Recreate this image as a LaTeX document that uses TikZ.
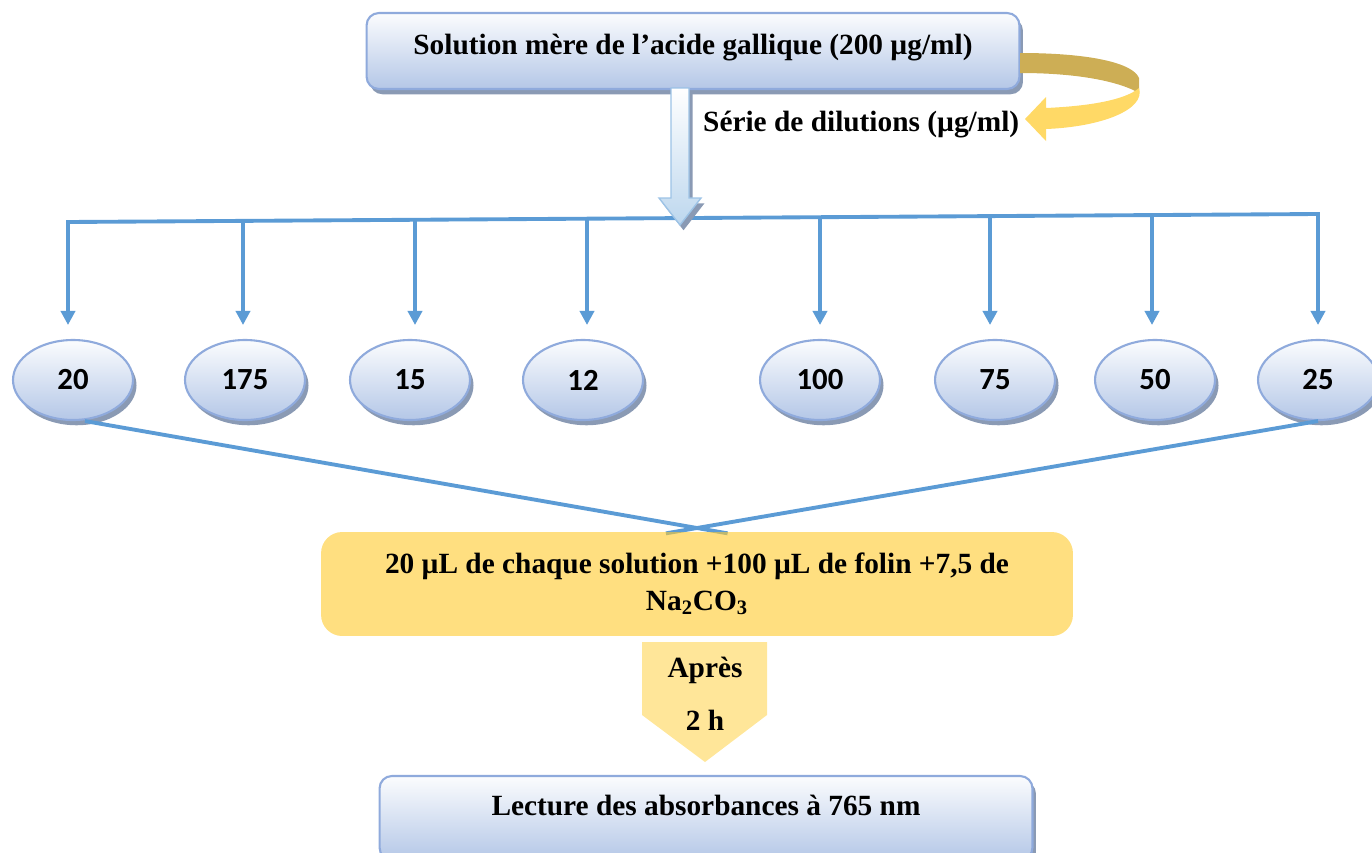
\documentclass[tikz,border=0pt]{standalone}
\usepackage{fontspec}
\setmainfont{Liberation Serif}
\newfontfamily\numfont{Carlito}
\usetikzlibrary{shapes.geometric,shadows,calc,arrows.meta}

\definecolor{lineblue}{HTML}{5B9BD5}
\definecolor{boxedge}{HTML}{8FAADC}
\definecolor{boxlow}{HTML}{B4C7E7}
\definecolor{shadowgray}{HTML}{8A9AB4}
\definecolor{goldbox}{HTML}{FFCA2B}
\definecolor{goldlight}{HTML}{FFE699}
\definecolor{golddark}{HTML}{CDAE55}
\definecolor{goldarrow}{HTML}{FFD966}
\definecolor{arrowedge}{HTML}{9DC3E6}
\definecolor{arrowlow}{HTML}{BDD7EE}

\tikzset{
	txt/.style={font=\bfseries\fontsize{16.7}{21}\selectfont},
	boxshadow/.style={drop shadow={fill=shadowgray, opacity=1, shadow xshift=2pt, shadow yshift=-3pt}},
	mainbox/.style={txt, draw=boxedge, line width=1.2pt, rounded corners=7pt, top color=white!95!boxlow, bottom color=boxlow, boxshadow, minimum width=13.06cm, minimum height=1.52cm, inner sep=0pt},
	dilution/.style={ellipse, draw=boxedge, line width=1.2pt, top color=white!95!boxlow, bottom color=boxlow, boxshadow, minimum width=2.4cm, minimum height=1.6cm, inner sep=0pt, font=\numfont\bfseries\fontsize{17.5}{20}\selectfont},
	ybox/.style={txt, fill=goldbox, fill opacity=0.6, text opacity=1, rounded corners=12pt, minimum width=15.04cm, minimum height=2.08cm, align=center},
	bluelink/.style={draw=lineblue, line width=2.2pt},
	droparrow/.style={bluelink, -{Triangle[width=8pt,length=8pt]}}
}

\begin{document}
\begin{tikzpicture}[x=0.02cm, y=-0.02cm]
		\useasboundingbox (0,0) rectangle (1372,852);

		\node[mainbox, text depth=8pt] (mere) at (693,51) {Solution mère de l’acide gallique (200 µg/ml)};

		% flèche courbe
		\fill[golddark] (1020,53) .. controls (1090,53) and (1133,63) .. (1139,78) -- (1139,93) .. controls (1120,82) and (1080,73) .. (1020,73) -- cycle;
		\fill[goldarrow] (1139,88) .. controls (1146,110) and (1100,127) .. (1046,129) -- (1046,141) -- (1025,119) -- (1046,97) -- (1046,108) .. controls (1090,106) and (1125,100) .. (1139,88) -- cycle;
		\node[txt, anchor=west] (serie) at (697,125) {Série de dilutions (µg/ml)};

		\coordinate (bl) at (68,222);
		\coordinate (br) at (1318,214);
		\draw[bluelink, line cap=rect] (bl) -- (br);

		\draw[draw=arrowedge, line width=0.8pt, top color=white, bottom color=arrowlow, boxshadow]
			(671,88) -- (689,88) -- (689,198) -- (701,198) -- (680,225) -- (659,198) -- (671,198) -- cycle;

		\foreach \v/\ex/\ax [count=\i] in {20/73/68, 175/245/243, 15/410/415, 12/583/587, 100/820/820, 75/995/990, 50/1155/1152, 25/1318/1318} {
			\node[dilution] (e\i) at (\ex,380) {\v};
			\coordinate (t\i) at (\ax,325);
			\pgfmathsetmacro\busfrac{(\ax-68)/1250}
			\draw[droparrow] ($(bl)!\busfrac!(br)$) -- (t\i);
		}

		\coordinate (meet) at (697,528);
		\coordinate (s1) at ($(e1.south)+(12,0)$);
		\coordinate (s8) at (e8.south);
		\draw[bluelink] (s1) -- ($(s1)!1.05!(meet)$);
		\draw[bluelink] (s8) -- ($(s8)!1.05!(meet)$);

		\node[ybox] (melange) at (697,584) {20 µL de chaque solution +100 µL de folin +7,5 de\\Na\textsubscript{2}CO\textsubscript{3}};

		\fill[goldlight] (642,642) -- (767,642) -- (767,715) -- (705,762) -- (642,715) -- cycle;
		\node[txt] (apres) at (705,670) {Après};
		\node[txt] (duree) at (705,720) {2 h};

		\node[mainbox, minimum height=1.68cm, text depth=14pt] (lecture) at (706,818) {Lecture des absorbances à 765 nm};
	\end{tikzpicture}
\end{document}
